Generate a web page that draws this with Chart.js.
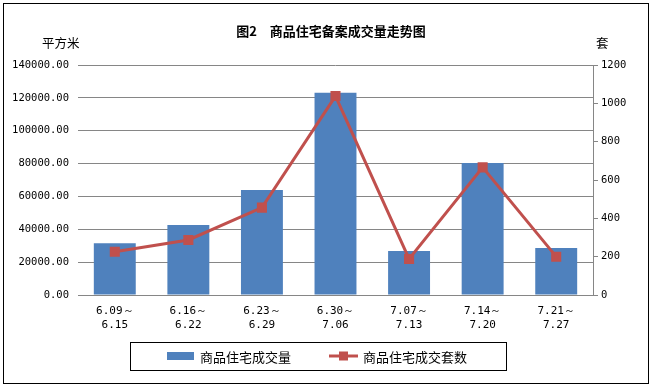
<!DOCTYPE html>
<html>
<head>
<meta charset="utf-8">
<script src="https://cdn.jsdelivr.net/npm/chart.js@4"></script>
<style>
  html, body { margin: 0; padding: 0; background: #fff; }
  #wrap { width: 652px; height: 387px; position: relative; }
</style>
</head>
<body>
<div id="wrap"><canvas id="houseChart" width="652" height="387"></canvas></div>
<script>
const weeks = [
    ['6.09～', '6.15'],
    ['6.16～', '6.22'],
    ['6.23～', '6.29'],
    ['6.30～', '7.06'],
    ['7.07～', '7.13'],
    ['7.14～', '7.20'],
    ['7.21～', '7.27']
];
const areaSold = [31500, 42600, 63900, 123100, 26800, 80300, 28600];   // 平方米
const unitsSold = [226, 287, 456, 1038, 188, 666, 200];                // 套

const areaName = '商品住宅成交量';
const unitsName = '商品住宅成交套数';
const titleText = '图2　商品住宅备案成交量走势图';

const cjk = '"Noto Sans CJK SC", sans-serif';
const mono = '"DejaVu Sans Mono", "Liberation Mono", monospace';
const blue = '#4F81BD';
const red = '#C0504D';
const gridGray = '#868686';

// frame, title, unit labels and the boxed legend
const decorations = {
    id: 'decorations',
    beforeDraw(chart) {
        const ctx = chart.ctx;
        ctx.save();
        ctx.fillStyle = '#fff';
        ctx.fillRect(0, 0, chart.width, chart.height);
        ctx.restore();
    },
    afterDraw(chart) {
        const ctx = chart.ctx;
        ctx.save();
        ctx.strokeStyle = '#000';
        ctx.lineWidth = 1;
        ctx.strokeRect(3.5, 3.5, 645, 380);

        ctx.fillStyle = '#000';
        ctx.textBaseline = 'middle';
        ctx.font = 'bold 13px ' + cjk;
        ctx.textAlign = 'center';
        ctx.fillText(titleText, 331, 31);

        ctx.font = '12.5px ' + cjk;
        ctx.textAlign = 'left';
        ctx.fillText('平方米', 42, 43);
        ctx.fillText('套', 596, 43);

        // legend
        ctx.strokeRect(130.5, 342.5, 376, 28);
        ctx.fillStyle = blue;
        ctx.fillRect(167, 352, 27, 8);
        ctx.strokeStyle = red;
        ctx.lineWidth = 3;
        ctx.beginPath();
        ctx.moveTo(329, 356);
        ctx.lineTo(358, 356);
        ctx.stroke();
        ctx.fillStyle = red;
        ctx.fillRect(339, 351.5, 9, 9);
        ctx.fillStyle = '#000';
        ctx.font = '13px ' + cjk;
        ctx.fillText(areaName, 200, 357);
        ctx.fillText(unitsName, 363, 357);
        ctx.restore();
    }
};

const ctx = document.getElementById('houseChart').getContext('2d');
const chart = new Chart(ctx, {
    type: 'bar',
    data: {
        labels: weeks,
        datasets: [
            {
                type: 'line',
                label: unitsName,
                data: unitsSold,
                yAxisID: 'y1',
                borderColor: red,
                backgroundColor: red,
                borderWidth: 3,
                pointStyle: 'rect',
                pointRadius: 5,
                pointBackgroundColor: red,
                pointBorderColor: red,
                tension: 0,
                order: 1
            },
            {
                label: areaName,
                data: areaSold,
                yAxisID: 'y',
                backgroundColor: blue,
                barPercentage: 0.57,
                categoryPercentage: 1,
                order: 2
            }
        ]
    },
    options: {
        responsive: false,
        animation: false,
        devicePixelRatio: 1,
        layout: { padding: { top: 65, left: 0, right: 0, bottom: 0 } },
        plugins: {
            legend: { display: false },
            title: { display: false },
            tooltip: { enabled: false }
        },
        scales: {
            x: {
                grid: { display: false },
                border: { color: gridGray },
                ticks: {
                    color: '#000',
                    font: { family: mono, size: 11, lineHeight: 1.3 },
                    padding: 1,
                    maxRotation: 0,
                    autoSkip: false
                },
                afterFit: s => { s.height = 92; }
            },
            y: {
                position: 'left',
                min: 0,
                max: 140000,
                ticks: {
                    stepSize: 20000,
                    color: '#000',
                    padding: 9,
                    font: { family: mono, size: 10.5 },
                    callback: v => v.toFixed(2)
                },
                grid: { color: gridGray, drawTicks: false },
                border: { display: false },
                afterFit: s => { s.width = 78; }
            },
            y1: {
                position: 'right',
                min: 0,
                max: 1200,
                ticks: {
                    stepSize: 200,
                    color: '#000',
                    padding: 3,
                    font: { family: mono, size: 10.5 },
                    callback: v => String(v)
                },
                grid: { drawOnChartArea: false, color: gridGray, tickLength: 5 },
                border: { color: gridGray },
                afterFit: s => { s.width = 59; }
            }
        }
    },
    plugins: [decorations]
});
</script>
</body>
</html>
